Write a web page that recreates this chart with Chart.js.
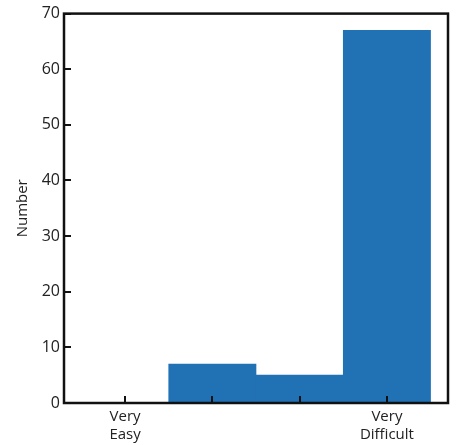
<!DOCTYPE html>
<html>
<head>
<meta charset="utf-8">
<script src="https://cdn.jsdelivr.net/npm/chart.js@4"></script>
<style>
html,body{margin:0;padding:0;background:#fff;}
#wrap{width:458px;height:445px;}
</style>
</head>
<body>
<div id="wrap"><canvas id="c" width="458" height="445"></canvas></div>
<script>
const categories = [["Very","Easy"], "", "", ["Very","Difficult"]];
const positions = [0, 1, 2, 3];
const values = [0, 7, 5, 67];
const yTicks = [0, 10, 20, 30, 40, 50, 60, 70];

const points = positions.map((p, i) => ({x: p, y: values[i]}));

const frameTicks = {
  id: 'frameTicks',
  afterDatasetsDraw(chart) {
    const {ctx, chartArea: a, scales} = chart;
    ctx.save();
    ctx.strokeStyle = '#111';
    ctx.lineWidth = 2;
    ctx.beginPath();
    scales.y.ticks.forEach(t => {
      const py = Math.round(scales.y.getPixelForValue(t.value));
      ctx.moveTo(a.left, py); ctx.lineTo(a.left + 7, py);
    });
    scales.x.ticks.forEach(t => {
      const px = Math.round(scales.x.getPixelForValue(t.value));
      ctx.moveTo(px, a.bottom); ctx.lineTo(px, a.bottom - 7);
    });
    ctx.stroke();
    ctx.lineWidth = 2.5;
    ctx.strokeRect(a.left, a.top, a.right - a.left, a.bottom - a.top);
    ctx.restore();
  }
};

new Chart(document.getElementById('c'), {
  type: 'bar',
  data: {
    datasets: [{
      data: points,
      backgroundColor: '#2171b5',
      borderWidth: 0,
      barPercentage: 1,
      categoryPercentage: 1
    }]
  },
  options: {
    responsive: false,
    animation: false,
    layout: {padding: {top: 10, right: 10, left: 14, bottom: 0}},
    plugins: {legend: {display: false}, tooltip: {enabled: false}},
    scales: {
      x: {
        type: 'linear',
        min: -0.7,
        max: 3.7,
        offset: false,
        afterBuildTicks(s) { s.ticks = positions.map(v => ({value: v})); },
        afterFit(s) { s.height = 42; },
        grid: {display: false, drawTicks: false, offset: false},
        border: {display: false},
        ticks: {
          padding: 4,
          autoSkip: false,
          maxRotation: 0,
          color: '#222',
          font: {family: 'Open Sans', size: 15, lineHeight: 1.25},
          callback(v) { const i = positions.indexOf(v); return i >= 0 ? categories[i] : ''; }
        }
      },
      y: {
        min: 0,
        max: 70,
        afterBuildTicks(s) { s.ticks = yTicks.map(v => ({value: v})); },
        afterFit(s) { s.width = 50; },
        grid: {display: false, drawTicks: false},
        border: {display: false},
        title: {display: true, text: 'Number', color: '#222', padding: {top: 0, bottom: 0},
                font: {family: 'Open Sans', size: 15}},
        ticks: {
          padding: 4,
          color: '#222',
          font: {family: 'Open Sans', size: 16}
        }
      }
    }
  },
  plugins: [frameTicks]
});
</script>
</body>
</html>
